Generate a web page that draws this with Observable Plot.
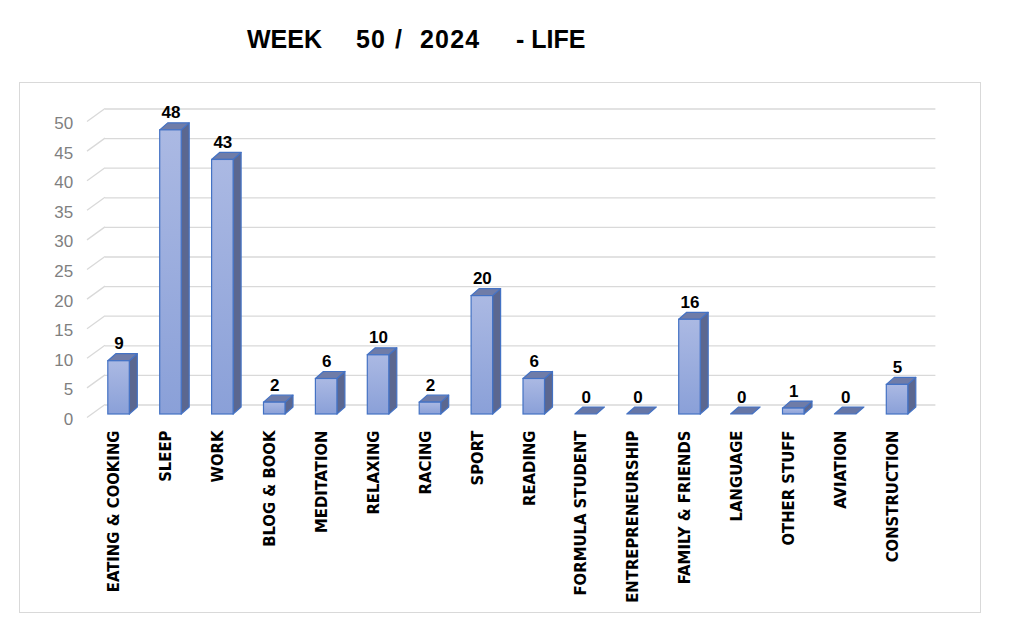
<!DOCTYPE html>
<html><head><meta charset="utf-8">
<script src="https://cdn.jsdelivr.net/npm/d3@7"></script>
<script src="https://cdn.jsdelivr.net/npm/@observablehq/plot@0.6"></script>
<style>
body{margin:0;background:#fff;width:1024px;height:644px;overflow:hidden;position:relative;font-family:"Liberation Sans",Arial,sans-serif}
#frame{position:absolute;left:19px;top:82px;width:962px;height:531px;border:1.5px solid #d9d9d9;box-sizing:border-box}
.t{position:absolute;top:27px;font-weight:bold;font-size:25px;color:#000;line-height:1;white-space:pre}
.d{letter-spacing:1.2px}
#chart{position:absolute;left:20px;top:83px}
</style></head><body>
<div id="frame"></div>
<span class="t" style="left:247px">WEEK</span>
<span class="t d" style="left:356px">50</span>
<span class="t" style="left:395px">/</span>
<span class="t d" style="left:420px">2024</span>
<span class="t" style="left:516px">- LIFE</span>
<div id="chart"></div>
<script>
const categories = ["EATING & COOKING","SLEEP","WORK","BLOG & BOOK","MEDITATION","RELAXING","RACING","SPORT","READING","FORMULA STUDENT","ENTREPRENEURSHIP","FAMILY & FRIENDS","LANGUAGE","OTHER STUFF","AVIATION","CONSTRUCTION"];
const hours = [9,48,43,2,6,10,2,20,6,0,0,16,0,1,0,5];
const yTicks = [0,5,10,15,20,25,30,35,40,45,50];

const data = categories.map((c, i) => ({cat: c, hours: hours[i]}));

const FW = 21.5, DX = 8, DY = 7;

function defs() {
  const g = d3.create("svg:g");
  const lg = g.append("defs").append("linearGradient").attr("id", "frontGrad")
    .attr("x1", 0).attr("y1", 0).attr("x2", 0).attr("y2", 1);
  lg.append("stop").attr("offset", "0%").attr("stop-color", "#abb9e3");
  lg.append("stop").attr("offset", "100%").attr("stop-color", "#8aa0d8");
  return g.node();
}

function slants(index, scales, values, dims) {
  const y = scales.y;
  const g = d3.create("svg:g").attr("stroke", "#d9d9d9").attr("stroke-width", 1.3);
  const xb = dims.marginLeft + 12.4;
  for (const t of yTicks) {
    g.append("line").attr("x1", xb - 18).attr("y1", y(t) + 3.5)
      .attr("x2", xb).attr("y2", y(t) - 9.5);
  }
  return g.node();
}

function threeD(index, scales, values, dims) {
  const x = scales.x, y = scales.y;
  const bw = typeof x.bandwidth === "function" ? x.bandwidth() : x.bandwidth;
  const g = d3.create("svg:g").attr("stroke", "#4472c4").attr("stroke-width", 1.2).attr("stroke-linejoin", "round");
  for (let i = 0; i < categories.length; i++) {
    const c = x(categories[i]) + bw / 2;
    const yv = y(hours[i]), y0 = y(0);
    const l = c - FW / 2, r = c + FW / 2;
    if (hours[i] > 0) {
      g.append("polygon")
        .attr("points", [[r, yv], [r + DX, yv - DY], [r + DX, y0 - DY], [r, y0]].join(" "))
        .attr("fill", "#5b6790");
    }
    g.append("polygon")
      .attr("points", [[l, yv], [r, yv], [r + DX, yv - DY], [l + DX, yv - DY]].join(" "))
      .attr("fill", hours[i] > 0 ? "#6f7ca8" : "#6676a6");
  }
  return g.node();
}

const chart = Plot.plot({
  width: 960,
  height: 529,
  marginLeft: 72.6,
  marginRight: 57,
  marginTop: 35,
  marginBottom: 198,
  style: {fontFamily: "'Liberation Sans', Arial, sans-serif", overflow: "visible", background: "transparent"},
  x: {domain: categories, padding: 0, align: 0.5, round: false},
  y: {domain: [0, 50]},
  marks: [
    defs,
    Plot.ruleY(yTicks, {dx: 12.4, dy: -9.5, stroke: "#d9d9d9", strokeWidth: 1.3}),
    slants,
    Plot.axisY({ticks: yTicks, tickSize: 0, tickPadding: 20, dy: 5, fontSize: 17, fill: "#7f7f7f", label: null}),
    threeD,
    Plot.barY(data, {x: "cat", y: "hours", filter: d => d.hours > 0, insetLeft: 15.2, insetRight: 15.2,
      fill: "url(#frontGrad)", stroke: "#4472c4", strokeWidth: 1.2}),
    Plot.text(data, {x: "cat", y: "hours", text: d => String(d.hours), dy: -12, lineAnchor: "bottom",
      fontSize: 17, fontWeight: "bold", fill: "#000"}),
    Plot.axisX({tickRotate: -90, tickSize: 0, tickPadding: 16, dx: -5, fontSize: 16.5, fontWeight: "bold",
      fill: "#000", label: null, fontFamily: "'Liberation Sans Narrow', 'DejaVu Sans Condensed', sans-serif"})
  ]
});
document.getElementById("chart").appendChild(chart);
</script>
</body></html>
